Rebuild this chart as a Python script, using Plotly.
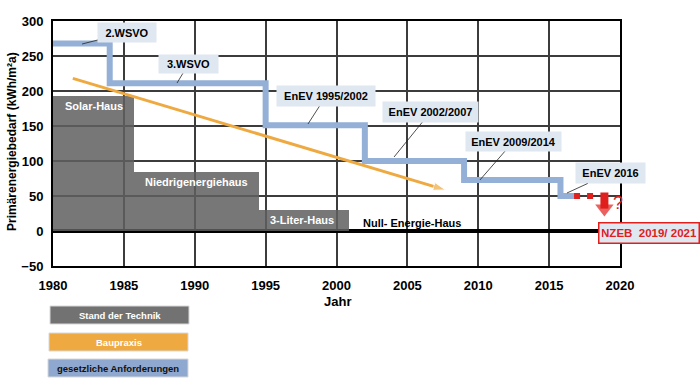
import plotly.graph_objects as go

# ---------------- data ----------------
# Stand der Technik (grey blocks)
tech_edges = [1980, 1985.7, 1994.5, 2000.9]
tech_values = [193, 85, 30]
tech_labels = ["Solar-Haus", "Niedrigenergiehaus", "3-Liter-Haus"]
tech_label_pos = [(1982.9, 178.6), (1990.1, 70), (1997.6, 15.7)]

# Baupraxis (orange trend arrow)
praxis_years = [1981.4, 2007.7]
praxis_values = [218, 58.6]

# gesetzliche Anforderungen (blue step line)
req_years = [1980, 1984, 1995, 2002, 2009, 2015.8, 2016.8]
req_values = [268, 211, 151, 100, 73, 50, 50]

# outlook (red dotted) and NZEB arrow
outlook_years = [2016.76, 2018.15]
outlook_values = [50, 50]
nzeb_arrow_years = [2018.9, 2018.9]
nzeb_arrow_values = [55, 32]

# regulation labels: text, anchor point on line, box centre offset (px), box size
reg_labels = ["2.WSVO", "3.WSVO", "EnEV 1995/2002", "EnEV 2002/2007", "EnEV 2009/2014", "EnEV 2016"]
reg_anchor_x = [1982.05, 1988.75, 1997.99, 2004.06, 2010.12, 2016.26]
reg_anchor_y = [267.1, 211.4, 152.9, 105.7, 72.9, 54.3]
reg_offset = [(45, -11.5), (11.5, -19), (18, -28), (36.5, -45), (33.5, -38.5), (43.5, -20)]
reg_box = [(58, 19), (59, 18), (98, 20), (95, 20), (95, 19), (69, 20)]

x_ticks = [1980, 1985, 1990, 1995, 2000, 2005, 2010, 2015, 2020]
y_ticks = [-50, 0, 50, 100, 150, 200, 250, 300]

GREY = "#727272"
ORANGE = "#eeaa40"
BLUE = "#94b0d6"
RED = "#e0201c"
BOXBG = "#dfe7f1"
FONT = "Liberation Sans"

fig = go.Figure()

# grey technology blocks
centers = [(a + b) / 2 for a, b in zip(tech_edges[:-1], tech_edges[1:])]
widths = [b - a for a, b in zip(tech_edges[:-1], tech_edges[1:])]
fig.add_trace(go.Bar(x=centers, y=tech_values, width=widths,
                     marker=dict(color="rgba(95,95,95,0.85)", line=dict(width=0)),
                     hoverinfo="skip"))

# blue step line
fig.add_trace(go.Scatter(x=req_years, y=req_values, mode="lines",
                         line=dict(color=BLUE, width=6, shape="hv"),
                         hoverinfo="skip"))

# red dotted outlook
fig.add_trace(go.Scatter(x=outlook_years, y=outlook_values, mode="lines",
                         line=dict(color=RED, width=6, dash="6px,7px"),
                         hoverinfo="skip"))

# red down arrow
fig.add_trace(go.Scatter(x=nzeb_arrow_years, y=nzeb_arrow_values, mode="lines+markers",
                         line=dict(color=RED, width=8),
                         marker=dict(symbol="triangle-down", size=[0, 16], color=RED,
                                     line=dict(width=0)),
                         hoverinfo="skip"))

# orange trend arrow
fig.add_trace(go.Scatter(x=praxis_years, y=praxis_values, mode="lines+markers",
                         line=dict(color=ORANGE, width=3),
                         marker=dict(symbol="arrow", angleref="previous",
                                     size=[0, 13], color=ORANGE),
                         hoverinfo="skip"))

ann = []
for (t, (x, y)) in zip(tech_labels, tech_label_pos):
    ann.append(dict(x=x, y=y, xref="x", yref="y", text=t, showarrow=False,
                    xanchor="center", yanchor="middle",
                    font=dict(family=FONT, size=11, color="white", weight="bold")))
ann.append(dict(x=2005.33, y=11.4, xref="x", yref="y", text="Null- Energie-Haus",
                showarrow=False, xanchor="center", yanchor="middle",
                font=dict(family=FONT, size=11, color="black", weight="bold")))

for t, x, y, (ox, oy), (w, h) in zip(reg_labels, reg_anchor_x, reg_anchor_y, reg_offset, reg_box):
    ann.append(dict(x=x, y=y, xref="x", yref="y", text=t, showarrow=True,
                    ax=ox, ay=oy, arrowhead=0, arrowwidth=0.8, arrowcolor="#222",
                    bgcolor=BOXBG, borderpad=2, width=w - 4, height=h - 4,
                    font=dict(family=FONT, size=11, color="black", weight="bold")))

# NZEB box (outside the x range -> paper coordinates)
ann.append(dict(x=(649 - 53) / 567, y=(266 - 233) / 245, xref="paper", yref="paper",
                text="NZEB\u00a0 2019/ 2021",
                showarrow=False, xanchor="center", yanchor="middle",
                bgcolor=BOXBG, bordercolor=RED, borderwidth=1.5,
                borderpad=2, width=95, height=15,
                font=dict(family=FONT, size=11.5, color=RED, weight="bold")))
ann.append(dict(x=2019.86, y=40, xref="x", yref="y", text="?", showarrow=False,
                xanchor="center", yanchor="middle",
                font=dict(family=FONT, size=18, color=RED)))

# axis titles
ann.append(dict(x=0.5026, y=-0.143, xref="paper", yref="paper", text="Jahr",
                showarrow=False, xanchor="center", yanchor="middle",
                font=dict(family=FONT, size=13, color="black", weight="bold")))
ann.append(dict(x=-0.0723, y=0.506, xref="paper", yref="paper",
                text="Primärenergiebedarf (kWh/m²a)", textangle=-90,
                showarrow=False, xanchor="center", yanchor="middle",
                font=dict(family=FONT, size=12, color="black", weight="bold")))

# custom legend
legend_items = [("Stand der Technik", GREY, "white", 306, 324, 50, 189),
                ("Baupraxis", ORANGE, "white", 333, 351, 49, 188),
                ("gesetzliche Anforderungen", "#8ea8cf", "#111", 359, 377, 48, 188)]
shapes = []
for text, col, tcol, py0, py1, px0, px1 in legend_items:
    x0 = (px0 - 53) / 567
    x1 = (px1 - 53) / 567
    y0 = (266 - py1) / 245
    y1 = (266 - py0) / 245
    shapes.append(dict(type="rect", xref="paper", yref="paper", x0=x0, x1=x1, y0=y0, y1=y1,
                       fillcolor=col, line=dict(width=1, color="#d8d8d8")))
    ann.append(dict(x=(x0 + x1) / 2, y=(y0 + y1) / 2, xref="paper", yref="paper", text=text,
                    showarrow=False, xanchor="center", yanchor="middle",
                    font=dict(family=FONT, size=9.5, color=tcol, weight="bold")))

fig.update_layout(
    width=700, height=378,
    margin=dict(l=53, r=80, t=21, b=112),
    paper_bgcolor="white", plot_bgcolor="white",
    showlegend=False, bargap=0,
    annotations=ann, shapes=shapes,
    font=dict(family=FONT),
)
fig.update_xaxes(range=[1980, 2020], tickvals=x_ticks, showgrid=True,
                 gridcolor="#3c3c3c", gridwidth=1.5, showline=True, mirror=True,
                 linecolor="black", linewidth=2, zeroline=False, ticks="",
                 ticklabelstandoff=6,
                 tickfont=dict(family=FONT, size=13, color="black", weight="bold"))
fig.update_yaxes(range=[-50, 300], tickvals=y_ticks, showgrid=True,
                 gridcolor="#3c3c3c", gridwidth=1.5, showline=True, mirror=True,
                 linecolor="black", linewidth=2, zeroline=True, zerolinecolor="black",
                 zerolinewidth=4, ticks="", ticklabelstandoff=5,
                 tickfont=dict(family=FONT, size=13, color="black", weight="bold"))

fig.write_html("out.html", config={"displayModeBar": False},
               post_script="document.body.style.margin='0';document.body.style.overflow='hidden';")
